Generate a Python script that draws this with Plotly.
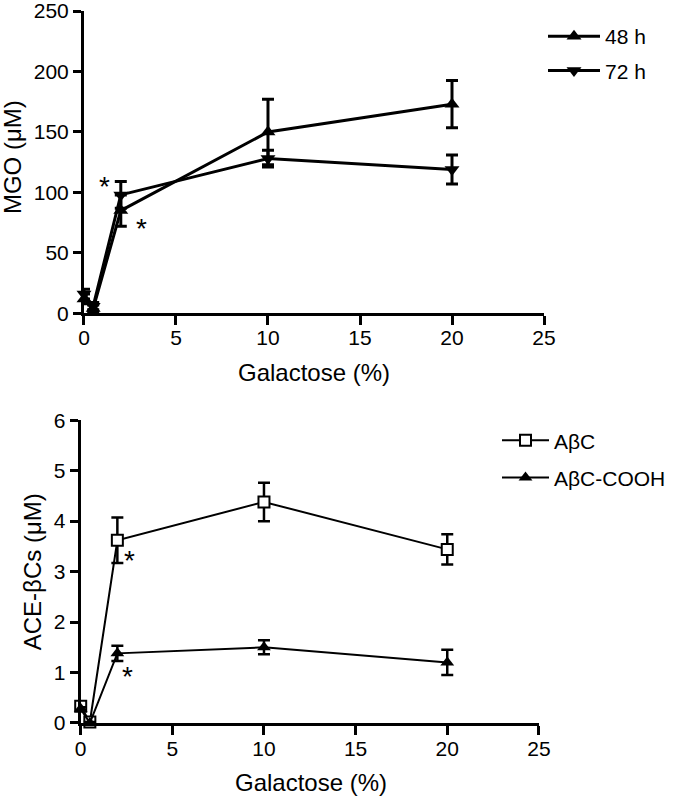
import plotly.graph_objects as go

# ---- data ----
galactose = [0, 0.5, 2, 10, 20]

mgo_48h = [12, 4, 85, 150, 173]
mgo_48h_err = [4, 3, 13, 27, 19.5]
mgo_72h = [16, 6, 98, 128, 119]
mgo_72h_err = [4, 3, 11, 7, 12]

abc = [0.33, 0.02, 3.62, 4.38, 3.44]
abc_err = [0.05, 0.02, 0.45, 0.38, 0.30]
abc_cooh = [0.28, 0.0, 1.38, 1.50, 1.20]
abc_cooh_err = [0.03, 0.02, 0.15, 0.14, 0.25]

x_ticks = [0, 5, 10, 15, 20, 25]
mgo_ticks = [0, 50, 100, 150, 200, 250]
ace_ticks = [0, 1, 2, 3, 4, 5, 6]

FONT = "Liberation Sans, Arial, sans-serif"
BLACK = "#000000"
TICK_SIZE = 21
TITLE_SIZE = 24
LEG_SIZE = 21

fig = go.Figure()

# top panel
fig.add_trace(go.Scatter(
    x=galactose, y=mgo_48h, name="48 h", mode="lines+markers",
    line=dict(color=BLACK, width=3),
    marker=dict(symbol="triangle-up", size=13, color=BLACK),
    error_y=dict(type="data", array=mgo_48h_err, color=BLACK, thickness=3, width=6),
    xaxis="x", yaxis="y", cliponaxis=False, legend="legend", legendgroup="a"))
fig.add_trace(go.Scatter(
    x=galactose, y=mgo_72h, name="72 h", mode="lines+markers",
    line=dict(color=BLACK, width=3),
    marker=dict(symbol="triangle-down", size=13, color=BLACK),
    error_y=dict(type="data", array=mgo_72h_err, color=BLACK, thickness=3, width=6),
    xaxis="x", yaxis="y", cliponaxis=False, legend="legend", legendgroup="b"))

# bottom panel
fig.add_trace(go.Scatter(
    x=galactose, y=abc, name="AβC", mode="lines+markers",
    line=dict(color=BLACK, width=2),
    marker=dict(symbol="square", size=11, color="white", line=dict(color=BLACK, width=2)),
    error_y=dict(type="data", array=abc_err, color=BLACK, thickness=2.5, width=6),
    xaxis="x2", yaxis="y2", cliponaxis=False, legend="legend2", legendgroup="c"))
fig.add_trace(go.Scatter(
    x=galactose, y=abc_cooh, name="AβC-COOH", mode="lines+markers",
    line=dict(color=BLACK, width=2),
    marker=dict(symbol="triangle-up", size=12, color=BLACK),
    error_y=dict(type="data", array=abc_cooh_err, color=BLACK, thickness=2.5, width=6),
    xaxis="x2", yaxis="y2", cliponaxis=False, legend="legend2", legendgroup="d"))

axis_common = dict(
    showline=True, linecolor=BLACK, linewidth=3, showgrid=False, zeroline=False,
    ticks="outside", tickcolor=BLACK, tickwidth=2.5, mirror=False,
    tickfont=dict(family=FONT, size=TICK_SIZE, color=BLACK), automargin=False,
    ticklabeloverflow="allow",
)

PH = 711.7  # plot-area height in px
fig.update_layout(
    width=674, height=797,
    margin=dict(l=80, r=130, t=11, b=74.3, autoexpand=False),
    paper_bgcolor="white", plot_bgcolor="white",
    font=dict(family=FONT, color=BLACK, size=TITLE_SIZE),
    xaxis=dict(domain=[0.0086, 1.0], range=[0, 25], tickvals=x_ticks, ticklen=9,
               ticklabelstandoff=-6, anchor="y", **axis_common),
    yaxis=dict(domain=[0.5752, 1.0], range=[0, 250], tickvals=mgo_ticks, ticklen=8,
               anchor="x", **axis_common),
    xaxis2=dict(domain=[0.0015, 0.989], range=[0, 25], tickvals=x_ticks, ticklen=9,
                ticklabelstandoff=-4, anchor="y2", **axis_common),
    yaxis2=dict(domain=[0.0, 0.4253], range=[0, 6], tickvals=ace_ticks, ticklen=8,
                anchor="x2", **axis_common),
    legend=dict(x=(543 - 80) / 464, y=(722.7 - 16) / PH, xanchor="left", yanchor="top",
                font=dict(family=FONT, size=LEG_SIZE, color=BLACK), bgcolor="rgba(0,0,0,0)",
                tracegroupgap=4, itemwidth=52),
    legend2=dict(x=(497 - 80) / 464, y=(722.7 - 420) / PH, xanchor="left", yanchor="top",
                 font=dict(family=FONT, size=LEG_SIZE, color=BLACK), bgcolor="rgba(0,0,0,0)",
                 tracegroupgap=7, itemwidth=47),
)

ann = []
# axis titles
ann.append(dict(text="Galactose (%)", xref="paper", yref="paper", x=0.504, y=(722.7 - 372) / PH,
                xanchor="center", yanchor="middle", showarrow=False, font=dict(size=TITLE_SIZE)))
ann.append(dict(text="Galactose (%)", xref="paper", yref="paper", x=0.497, y=(722.7 - 782) / PH,
                xanchor="center", yanchor="middle", showarrow=False, font=dict(size=TITLE_SIZE)))
ann.append(dict(text="MGO (μM)", xref="paper", yref="paper", x=(12 - 80) / 464, y=(722.7 - 157) / PH,
                xanchor="center", yanchor="middle", textangle=-90, showarrow=False, font=dict(size=TITLE_SIZE)))
ann.append(dict(text="ACE-βCs (μM)", xref="paper", yref="paper", x=(32 - 80) / 464, y=(722.7 - 572) / PH,
                xanchor="center", yanchor="middle", textangle=-90, showarrow=False, font=dict(size=TITLE_SIZE)))
# significance asterisks
for xr, yr, xv, yv in [("x", "y", 1.14, 107.7), ("x", "y", 3.15, 73),
                       ("x2", "y2", 2.69, 3.27), ("x2", "y2", 2.58, 0.99)]:
    ann.append(dict(text="*", xref=xr, yref=yr, x=xv, y=yv, xanchor="center", yanchor="middle",
                    showarrow=False, yshift=-3, font=dict(size=28)))
fig.update_layout(annotations=ann)

fig.write_html("out.html")
